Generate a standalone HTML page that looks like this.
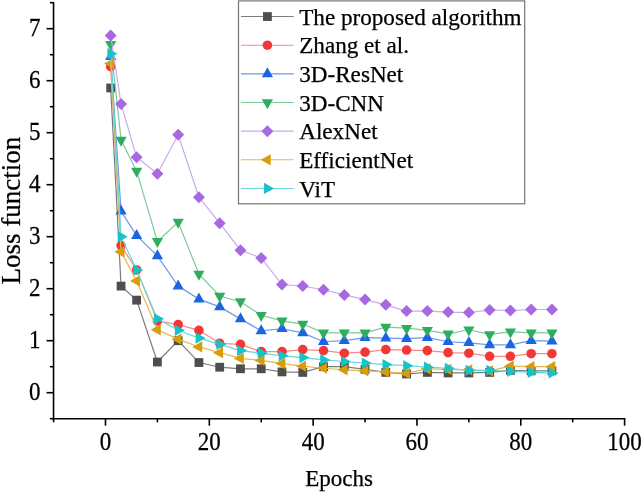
<!DOCTYPE html>
<html><head><meta charset="utf-8"><style>
html,body{margin:0;padding:0;background:#fff;overflow:hidden}
svg{display:block;will-change:transform}
text{font-family:"Liberation Serif",serif;fill:#000;stroke:#000;stroke-width:0.25px}
</style></head><body>
<svg width="641" height="492" viewBox="0 0 641 492">
<line x1="53.55" y1="1.95" x2="53.55" y2="419.50" stroke="#000" stroke-width="1.6"/>
<line x1="52.75" y1="418.70" x2="625.35" y2="418.70" stroke="#000" stroke-width="1.6"/>
<line x1="49.95" y1="418.70" x2="53.55" y2="418.70" stroke="#000" stroke-width="1.6"/>
<line x1="46.55" y1="392.70" x2="53.55" y2="392.70" stroke="#000" stroke-width="1.6"/>
<text transform="translate(40.6,399.80) scale(1,1.06)" font-family="Liberation Serif, serif" font-size="23" text-anchor="end">0</text>
<line x1="49.95" y1="366.70" x2="53.55" y2="366.70" stroke="#000" stroke-width="1.6"/>
<line x1="46.55" y1="340.70" x2="53.55" y2="340.70" stroke="#000" stroke-width="1.6"/>
<text transform="translate(40.6,347.80) scale(1,1.06)" font-family="Liberation Serif, serif" font-size="23" text-anchor="end">1</text>
<line x1="49.95" y1="314.70" x2="53.55" y2="314.70" stroke="#000" stroke-width="1.6"/>
<line x1="46.55" y1="288.70" x2="53.55" y2="288.70" stroke="#000" stroke-width="1.6"/>
<text transform="translate(40.6,295.80) scale(1,1.06)" font-family="Liberation Serif, serif" font-size="23" text-anchor="end">2</text>
<line x1="49.95" y1="262.70" x2="53.55" y2="262.70" stroke="#000" stroke-width="1.6"/>
<line x1="46.55" y1="236.70" x2="53.55" y2="236.70" stroke="#000" stroke-width="1.6"/>
<text transform="translate(40.6,243.80) scale(1,1.06)" font-family="Liberation Serif, serif" font-size="23" text-anchor="end">3</text>
<line x1="49.95" y1="210.70" x2="53.55" y2="210.70" stroke="#000" stroke-width="1.6"/>
<line x1="46.55" y1="184.70" x2="53.55" y2="184.70" stroke="#000" stroke-width="1.6"/>
<text transform="translate(40.6,191.80) scale(1,1.06)" font-family="Liberation Serif, serif" font-size="23" text-anchor="end">4</text>
<line x1="49.95" y1="158.70" x2="53.55" y2="158.70" stroke="#000" stroke-width="1.6"/>
<line x1="46.55" y1="132.70" x2="53.55" y2="132.70" stroke="#000" stroke-width="1.6"/>
<text transform="translate(40.6,139.80) scale(1,1.06)" font-family="Liberation Serif, serif" font-size="23" text-anchor="end">5</text>
<line x1="49.95" y1="106.70" x2="53.55" y2="106.70" stroke="#000" stroke-width="1.6"/>
<line x1="46.55" y1="80.70" x2="53.55" y2="80.70" stroke="#000" stroke-width="1.6"/>
<text transform="translate(40.6,87.80) scale(1,1.06)" font-family="Liberation Serif, serif" font-size="23" text-anchor="end">6</text>
<line x1="49.95" y1="54.70" x2="53.55" y2="54.70" stroke="#000" stroke-width="1.6"/>
<line x1="46.55" y1="28.70" x2="53.55" y2="28.70" stroke="#000" stroke-width="1.6"/>
<text transform="translate(40.6,35.80) scale(1,1.06)" font-family="Liberation Serif, serif" font-size="23" text-anchor="end">7</text>
<line x1="49.95" y1="2.70" x2="53.55" y2="2.70" stroke="#000" stroke-width="1.6"/>
<line x1="53.59" y1="418.70" x2="53.59" y2="422.30" stroke="#000" stroke-width="1.6"/>
<line x1="105.50" y1="418.70" x2="105.50" y2="425.70" stroke="#000" stroke-width="1.6"/>
<text transform="translate(105.50,449.7) scale(1,1.06)" font-family="Liberation Serif, serif" font-size="23" text-anchor="middle">0</text>
<line x1="157.41" y1="418.70" x2="157.41" y2="422.30" stroke="#000" stroke-width="1.6"/>
<line x1="209.32" y1="418.70" x2="209.32" y2="425.70" stroke="#000" stroke-width="1.6"/>
<text transform="translate(209.32,449.7) scale(1,1.06)" font-family="Liberation Serif, serif" font-size="23" text-anchor="middle">20</text>
<line x1="261.23" y1="418.70" x2="261.23" y2="422.30" stroke="#000" stroke-width="1.6"/>
<line x1="313.14" y1="418.70" x2="313.14" y2="425.70" stroke="#000" stroke-width="1.6"/>
<text transform="translate(313.14,449.7) scale(1,1.06)" font-family="Liberation Serif, serif" font-size="23" text-anchor="middle">40</text>
<line x1="365.05" y1="418.70" x2="365.05" y2="422.30" stroke="#000" stroke-width="1.6"/>
<line x1="416.96" y1="418.70" x2="416.96" y2="425.70" stroke="#000" stroke-width="1.6"/>
<text transform="translate(416.96,449.7) scale(1,1.06)" font-family="Liberation Serif, serif" font-size="23" text-anchor="middle">60</text>
<line x1="468.87" y1="418.70" x2="468.87" y2="422.30" stroke="#000" stroke-width="1.6"/>
<line x1="520.78" y1="418.70" x2="520.78" y2="425.70" stroke="#000" stroke-width="1.6"/>
<text transform="translate(520.78,449.7) scale(1,1.06)" font-family="Liberation Serif, serif" font-size="23" text-anchor="middle">80</text>
<line x1="572.69" y1="418.70" x2="572.69" y2="422.30" stroke="#000" stroke-width="1.6"/>
<line x1="624.60" y1="418.70" x2="624.60" y2="425.70" stroke="#000" stroke-width="1.6"/>
<text transform="translate(624.60,449.7) scale(1,1.06)" font-family="Liberation Serif, serif" font-size="23" text-anchor="middle">100</text>
<text x="339" y="486.2" font-family="Liberation Serif, serif" font-size="23" text-anchor="middle">Epochs</text>
<text transform="translate(19.5,210.6) rotate(-90)" font-family="Liberation Serif, serif" font-size="27" text-anchor="middle">Loss function</text>
<polyline points="110.69,87.98 121.07,286.10 136.65,300.14 157.41,362.02 178.17,340.70 198.94,362.54 219.70,367.22 240.47,368.78 261.23,368.78 281.99,371.90 302.76,372.42 323.52,366.70 344.29,366.70 365.05,369.30 385.81,372.42 406.58,373.98 427.34,372.42 448.11,372.94 468.87,372.94 489.63,372.42 510.40,370.34 531.16,370.86 551.93,370.86" fill="none" stroke="#7C7C7C" stroke-width="1.2"/>
<rect x="106.29" y="83.58" width="8.8" height="8.8" fill="#4E4E4E"/>
<rect x="116.67" y="281.70" width="8.8" height="8.8" fill="#4E4E4E"/>
<rect x="132.25" y="295.74" width="8.8" height="8.8" fill="#4E4E4E"/>
<rect x="153.01" y="357.62" width="8.8" height="8.8" fill="#4E4E4E"/>
<rect x="173.77" y="336.30" width="8.8" height="8.8" fill="#4E4E4E"/>
<rect x="194.54" y="358.14" width="8.8" height="8.8" fill="#4E4E4E"/>
<rect x="215.30" y="362.82" width="8.8" height="8.8" fill="#4E4E4E"/>
<rect x="236.07" y="364.38" width="8.8" height="8.8" fill="#4E4E4E"/>
<rect x="256.83" y="364.38" width="8.8" height="8.8" fill="#4E4E4E"/>
<rect x="277.59" y="367.50" width="8.8" height="8.8" fill="#4E4E4E"/>
<rect x="298.36" y="368.02" width="8.8" height="8.8" fill="#4E4E4E"/>
<rect x="319.12" y="362.30" width="8.8" height="8.8" fill="#4E4E4E"/>
<rect x="339.89" y="362.30" width="8.8" height="8.8" fill="#4E4E4E"/>
<rect x="360.65" y="364.90" width="8.8" height="8.8" fill="#4E4E4E"/>
<rect x="381.41" y="368.02" width="8.8" height="8.8" fill="#4E4E4E"/>
<rect x="402.18" y="369.58" width="8.8" height="8.8" fill="#4E4E4E"/>
<rect x="422.94" y="368.02" width="8.8" height="8.8" fill="#4E4E4E"/>
<rect x="443.71" y="368.54" width="8.8" height="8.8" fill="#4E4E4E"/>
<rect x="464.47" y="368.54" width="8.8" height="8.8" fill="#4E4E4E"/>
<rect x="485.23" y="368.02" width="8.8" height="8.8" fill="#4E4E4E"/>
<rect x="506.00" y="365.94" width="8.8" height="8.8" fill="#4E4E4E"/>
<rect x="526.76" y="366.46" width="8.8" height="8.8" fill="#4E4E4E"/>
<rect x="547.53" y="366.46" width="8.8" height="8.8" fill="#4E4E4E"/>
<polyline points="110.69,66.66 121.07,245.54 136.65,269.98 157.41,320.94 178.17,324.58 198.94,330.30 219.70,343.30 240.47,344.34 261.23,351.62 281.99,351.62 302.76,349.54 323.52,350.58 344.29,353.18 365.05,352.14 385.81,349.54 406.58,350.06 427.34,350.58 448.11,352.66 468.87,353.18 489.63,356.30 510.40,356.30 531.16,353.70 551.93,353.70" fill="none" stroke="#F68A8B" stroke-width="1.2"/>
<circle cx="110.69" cy="66.66" r="4.8" fill="#F33737"/>
<circle cx="121.07" cy="245.54" r="4.8" fill="#F33737"/>
<circle cx="136.65" cy="269.98" r="4.8" fill="#F33737"/>
<circle cx="157.41" cy="320.94" r="4.8" fill="#F33737"/>
<circle cx="178.17" cy="324.58" r="4.8" fill="#F33737"/>
<circle cx="198.94" cy="330.30" r="4.8" fill="#F33737"/>
<circle cx="219.70" cy="343.30" r="4.8" fill="#F33737"/>
<circle cx="240.47" cy="344.34" r="4.8" fill="#F33737"/>
<circle cx="261.23" cy="351.62" r="4.8" fill="#F33737"/>
<circle cx="281.99" cy="351.62" r="4.8" fill="#F33737"/>
<circle cx="302.76" cy="349.54" r="4.8" fill="#F33737"/>
<circle cx="323.52" cy="350.58" r="4.8" fill="#F33737"/>
<circle cx="344.29" cy="353.18" r="4.8" fill="#F33737"/>
<circle cx="365.05" cy="352.14" r="4.8" fill="#F33737"/>
<circle cx="385.81" cy="349.54" r="4.8" fill="#F33737"/>
<circle cx="406.58" cy="350.06" r="4.8" fill="#F33737"/>
<circle cx="427.34" cy="350.58" r="4.8" fill="#F33737"/>
<circle cx="448.11" cy="352.66" r="4.8" fill="#F33737"/>
<circle cx="468.87" cy="353.18" r="4.8" fill="#F33737"/>
<circle cx="489.63" cy="356.30" r="4.8" fill="#F33737"/>
<circle cx="510.40" cy="356.30" r="4.8" fill="#F33737"/>
<circle cx="531.16" cy="353.70" r="4.8" fill="#F33737"/>
<circle cx="551.93" cy="353.70" r="4.8" fill="#F33737"/>
<polyline points="110.69,56.78 121.07,211.22 136.65,235.66 157.41,255.94 178.17,286.10 198.94,299.10 219.70,306.90 240.47,318.86 261.23,330.82 281.99,328.74 302.76,332.90 323.52,341.74 344.29,340.70 365.05,337.58 385.81,338.10 406.58,338.62 427.34,337.58 448.11,341.74 468.87,342.78 489.63,344.86 510.40,344.86 531.16,340.70 551.93,341.22" fill="none" stroke="#6A98EA" stroke-width="1.2"/>
<path d="M110.69 50.11L116.29 60.11L105.09 60.11Z" fill="#1B65E3"/>
<path d="M121.07 204.55L126.67 214.55L115.47 214.55Z" fill="#1B65E3"/>
<path d="M136.65 228.99L142.25 238.99L131.05 238.99Z" fill="#1B65E3"/>
<path d="M157.41 249.27L163.01 259.27L151.81 259.27Z" fill="#1B65E3"/>
<path d="M178.17 279.43L183.77 289.43L172.57 289.43Z" fill="#1B65E3"/>
<path d="M198.94 292.43L204.54 302.43L193.34 302.43Z" fill="#1B65E3"/>
<path d="M219.70 300.23L225.30 310.23L214.10 310.23Z" fill="#1B65E3"/>
<path d="M240.47 312.19L246.07 322.19L234.87 322.19Z" fill="#1B65E3"/>
<path d="M261.23 324.15L266.83 334.15L255.63 334.15Z" fill="#1B65E3"/>
<path d="M281.99 322.07L287.59 332.07L276.39 332.07Z" fill="#1B65E3"/>
<path d="M302.76 326.23L308.36 336.23L297.16 336.23Z" fill="#1B65E3"/>
<path d="M323.52 335.07L329.12 345.07L317.92 345.07Z" fill="#1B65E3"/>
<path d="M344.29 334.03L349.89 344.03L338.69 344.03Z" fill="#1B65E3"/>
<path d="M365.05 330.91L370.65 340.91L359.45 340.91Z" fill="#1B65E3"/>
<path d="M385.81 331.43L391.41 341.43L380.21 341.43Z" fill="#1B65E3"/>
<path d="M406.58 331.95L412.18 341.95L400.98 341.95Z" fill="#1B65E3"/>
<path d="M427.34 330.91L432.94 340.91L421.74 340.91Z" fill="#1B65E3"/>
<path d="M448.11 335.07L453.71 345.07L442.51 345.07Z" fill="#1B65E3"/>
<path d="M468.87 336.11L474.47 346.11L463.27 346.11Z" fill="#1B65E3"/>
<path d="M489.63 338.19L495.23 348.19L484.03 348.19Z" fill="#1B65E3"/>
<path d="M510.40 338.19L516.00 348.19L504.80 348.19Z" fill="#1B65E3"/>
<path d="M531.16 334.03L536.76 344.03L525.56 344.03Z" fill="#1B65E3"/>
<path d="M551.93 334.55L557.53 344.55L546.33 344.55Z" fill="#1B65E3"/>
<polyline points="110.69,44.30 121.07,139.98 136.65,171.18 157.41,241.38 178.17,222.14 198.94,274.14 219.70,295.98 240.47,301.70 261.23,315.22 281.99,320.94 302.76,324.06 323.52,332.90 344.29,332.90 365.05,332.90 385.81,327.18 406.58,328.22 427.34,330.30 448.11,333.94 468.87,329.78 489.63,334.46 510.40,331.86 531.16,332.90 551.93,332.90" fill="none" stroke="#7BC999" stroke-width="1.2"/>
<path d="M105.09 40.97L116.29 40.97L110.69 50.97Z" fill="#2FAD5E"/>
<path d="M115.47 136.65L126.67 136.65L121.07 146.65Z" fill="#2FAD5E"/>
<path d="M131.05 167.85L142.25 167.85L136.65 177.85Z" fill="#2FAD5E"/>
<path d="M151.81 238.05L163.01 238.05L157.41 248.05Z" fill="#2FAD5E"/>
<path d="M172.57 218.81L183.77 218.81L178.17 228.81Z" fill="#2FAD5E"/>
<path d="M193.34 270.81L204.54 270.81L198.94 280.81Z" fill="#2FAD5E"/>
<path d="M214.10 292.65L225.30 292.65L219.70 302.65Z" fill="#2FAD5E"/>
<path d="M234.87 298.37L246.07 298.37L240.47 308.37Z" fill="#2FAD5E"/>
<path d="M255.63 311.89L266.83 311.89L261.23 321.89Z" fill="#2FAD5E"/>
<path d="M276.39 317.61L287.59 317.61L281.99 327.61Z" fill="#2FAD5E"/>
<path d="M297.16 320.73L308.36 320.73L302.76 330.73Z" fill="#2FAD5E"/>
<path d="M317.92 329.57L329.12 329.57L323.52 339.57Z" fill="#2FAD5E"/>
<path d="M338.69 329.57L349.89 329.57L344.29 339.57Z" fill="#2FAD5E"/>
<path d="M359.45 329.57L370.65 329.57L365.05 339.57Z" fill="#2FAD5E"/>
<path d="M380.21 323.85L391.41 323.85L385.81 333.85Z" fill="#2FAD5E"/>
<path d="M400.98 324.89L412.18 324.89L406.58 334.89Z" fill="#2FAD5E"/>
<path d="M421.74 326.97L432.94 326.97L427.34 336.97Z" fill="#2FAD5E"/>
<path d="M442.51 330.61L453.71 330.61L448.11 340.61Z" fill="#2FAD5E"/>
<path d="M463.27 326.45L474.47 326.45L468.87 336.45Z" fill="#2FAD5E"/>
<path d="M484.03 331.13L495.23 331.13L489.63 341.13Z" fill="#2FAD5E"/>
<path d="M504.80 328.53L516.00 328.53L510.40 338.53Z" fill="#2FAD5E"/>
<path d="M525.56 329.57L536.76 329.57L531.16 339.57Z" fill="#2FAD5E"/>
<path d="M546.33 329.57L557.53 329.57L551.93 339.57Z" fill="#2FAD5E"/>
<polyline points="110.69,35.46 121.07,104.10 136.65,157.14 157.41,173.78 178.17,134.78 198.94,197.18 219.70,223.18 240.47,250.22 261.23,258.02 281.99,284.54 302.76,286.10 323.52,289.74 344.29,294.94 365.05,299.62 385.81,304.82 406.58,311.06 427.34,311.06 448.11,312.10 468.87,312.62 489.63,310.02 510.40,310.54 531.16,309.50 551.93,309.50" fill="none" stroke="#CAAAEE" stroke-width="1.2"/>
<path d="M110.69 29.46L116.69 35.46L110.69 41.46L104.69 35.46Z" fill="#A868E2"/>
<path d="M121.07 98.10L127.07 104.10L121.07 110.10L115.07 104.10Z" fill="#A868E2"/>
<path d="M136.65 151.14L142.65 157.14L136.65 163.14L130.65 157.14Z" fill="#A868E2"/>
<path d="M157.41 167.78L163.41 173.78L157.41 179.78L151.41 173.78Z" fill="#A868E2"/>
<path d="M178.17 128.78L184.17 134.78L178.17 140.78L172.17 134.78Z" fill="#A868E2"/>
<path d="M198.94 191.18L204.94 197.18L198.94 203.18L192.94 197.18Z" fill="#A868E2"/>
<path d="M219.70 217.18L225.70 223.18L219.70 229.18L213.70 223.18Z" fill="#A868E2"/>
<path d="M240.47 244.22L246.47 250.22L240.47 256.22L234.47 250.22Z" fill="#A868E2"/>
<path d="M261.23 252.02L267.23 258.02L261.23 264.02L255.23 258.02Z" fill="#A868E2"/>
<path d="M281.99 278.54L287.99 284.54L281.99 290.54L275.99 284.54Z" fill="#A868E2"/>
<path d="M302.76 280.10L308.76 286.10L302.76 292.10L296.76 286.10Z" fill="#A868E2"/>
<path d="M323.52 283.74L329.52 289.74L323.52 295.74L317.52 289.74Z" fill="#A868E2"/>
<path d="M344.29 288.94L350.29 294.94L344.29 300.94L338.29 294.94Z" fill="#A868E2"/>
<path d="M365.05 293.62L371.05 299.62L365.05 305.62L359.05 299.62Z" fill="#A868E2"/>
<path d="M385.81 298.82L391.81 304.82L385.81 310.82L379.81 304.82Z" fill="#A868E2"/>
<path d="M406.58 305.06L412.58 311.06L406.58 317.06L400.58 311.06Z" fill="#A868E2"/>
<path d="M427.34 305.06L433.34 311.06L427.34 317.06L421.34 311.06Z" fill="#A868E2"/>
<path d="M448.11 306.10L454.11 312.10L448.11 318.10L442.11 312.10Z" fill="#A868E2"/>
<path d="M468.87 306.62L474.87 312.62L468.87 318.62L462.87 312.62Z" fill="#A868E2"/>
<path d="M489.63 304.02L495.63 310.02L489.63 316.02L483.63 310.02Z" fill="#A868E2"/>
<path d="M510.40 304.54L516.40 310.54L510.40 316.54L504.40 310.54Z" fill="#A868E2"/>
<path d="M531.16 303.50L537.16 309.50L531.16 315.50L525.16 309.50Z" fill="#A868E2"/>
<path d="M551.93 303.50L557.93 309.50L551.93 315.50L545.93 309.50Z" fill="#A868E2"/>
<polyline points="110.69,63.54 121.07,251.78 136.65,280.90 157.41,329.78 178.17,339.14 198.94,346.94 219.70,352.66 240.47,358.38 261.23,360.46 281.99,363.58 302.76,366.18 323.52,368.26 344.29,369.82 365.05,370.86 385.81,371.90 406.58,373.46 427.34,368.78 448.11,369.30 468.87,369.82 489.63,370.86 510.40,366.18 531.16,366.70 551.93,366.70" fill="none" stroke="#E3B853" stroke-width="1.2"/>
<path d="M104.02 63.54L114.02 57.94L114.02 69.14Z" fill="#D89D08"/>
<path d="M114.41 251.78L124.41 246.18L124.41 257.38Z" fill="#D89D08"/>
<path d="M129.98 280.90L139.98 275.30L139.98 286.50Z" fill="#D89D08"/>
<path d="M150.74 329.78L160.74 324.18L160.74 335.38Z" fill="#D89D08"/>
<path d="M171.51 339.14L181.51 333.54L181.51 344.74Z" fill="#D89D08"/>
<path d="M192.27 346.94L202.27 341.34L202.27 352.54Z" fill="#D89D08"/>
<path d="M213.04 352.66L223.04 347.06L223.04 358.26Z" fill="#D89D08"/>
<path d="M233.80 358.38L243.80 352.78L243.80 363.98Z" fill="#D89D08"/>
<path d="M254.56 360.46L264.56 354.86L264.56 366.06Z" fill="#D89D08"/>
<path d="M275.33 363.58L285.33 357.98L285.33 369.18Z" fill="#D89D08"/>
<path d="M296.09 366.18L306.09 360.58L306.09 371.78Z" fill="#D89D08"/>
<path d="M316.86 368.26L326.86 362.66L326.86 373.86Z" fill="#D89D08"/>
<path d="M337.62 369.82L347.62 364.22L347.62 375.42Z" fill="#D89D08"/>
<path d="M358.38 370.86L368.38 365.26L368.38 376.46Z" fill="#D89D08"/>
<path d="M379.15 371.90L389.15 366.30L389.15 377.50Z" fill="#D89D08"/>
<path d="M399.91 373.46L409.91 367.86L409.91 379.06Z" fill="#D89D08"/>
<path d="M420.68 368.78L430.68 363.18L430.68 374.38Z" fill="#D89D08"/>
<path d="M441.44 369.30L451.44 363.70L451.44 374.90Z" fill="#D89D08"/>
<path d="M462.20 369.82L472.20 364.22L472.20 375.42Z" fill="#D89D08"/>
<path d="M482.97 370.86L492.97 365.26L492.97 376.46Z" fill="#D89D08"/>
<path d="M503.73 366.18L513.73 360.58L513.73 371.78Z" fill="#D89D08"/>
<path d="M524.50 366.70L534.50 361.10L534.50 372.30Z" fill="#D89D08"/>
<path d="M545.26 366.70L555.26 361.10L555.26 372.30Z" fill="#D89D08"/>
<polyline points="110.69,53.66 121.07,236.70 136.65,269.98 157.41,318.86 178.17,330.30 198.94,338.10 219.70,344.34 240.47,350.58 261.23,353.18 281.99,355.78 302.76,357.60 323.52,359.94 344.29,361.50 365.05,363.06 385.81,364.62 406.58,365.66 427.34,367.22 448.11,368.26 468.87,370.34 489.63,370.34 510.40,371.38 531.16,372.42 551.93,372.94" fill="none" stroke="#66D8DB" stroke-width="1.2"/>
<path d="M117.36 53.66L107.36 48.06L107.36 59.26Z" fill="#16C3C8"/>
<path d="M127.74 236.70L117.74 231.10L117.74 242.30Z" fill="#16C3C8"/>
<path d="M143.31 269.98L133.31 264.38L133.31 275.58Z" fill="#16C3C8"/>
<path d="M164.08 318.86L154.08 313.26L154.08 324.46Z" fill="#16C3C8"/>
<path d="M184.84 330.30L174.84 324.70L174.84 335.90Z" fill="#16C3C8"/>
<path d="M205.60 338.10L195.60 332.50L195.60 343.70Z" fill="#16C3C8"/>
<path d="M226.37 344.34L216.37 338.74L216.37 349.94Z" fill="#16C3C8"/>
<path d="M247.13 350.58L237.13 344.98L237.13 356.18Z" fill="#16C3C8"/>
<path d="M267.90 353.18L257.90 347.58L257.90 358.78Z" fill="#16C3C8"/>
<path d="M288.66 355.78L278.66 350.18L278.66 361.38Z" fill="#16C3C8"/>
<path d="M309.42 357.60L299.42 352.00L299.42 363.20Z" fill="#16C3C8"/>
<path d="M330.19 359.94L320.19 354.34L320.19 365.54Z" fill="#16C3C8"/>
<path d="M350.95 361.50L340.95 355.90L340.95 367.10Z" fill="#16C3C8"/>
<path d="M371.72 363.06L361.72 357.46L361.72 368.66Z" fill="#16C3C8"/>
<path d="M392.48 364.62L382.48 359.02L382.48 370.22Z" fill="#16C3C8"/>
<path d="M413.24 365.66L403.24 360.06L403.24 371.26Z" fill="#16C3C8"/>
<path d="M434.01 367.22L424.01 361.62L424.01 372.82Z" fill="#16C3C8"/>
<path d="M454.77 368.26L444.77 362.66L444.77 373.86Z" fill="#16C3C8"/>
<path d="M475.54 370.34L465.54 364.74L465.54 375.94Z" fill="#16C3C8"/>
<path d="M496.30 370.34L486.30 364.74L486.30 375.94Z" fill="#16C3C8"/>
<path d="M517.06 371.38L507.06 365.78L507.06 376.98Z" fill="#16C3C8"/>
<path d="M537.83 372.42L527.83 366.82L527.83 378.02Z" fill="#16C3C8"/>
<path d="M558.59 372.94L548.59 367.34L548.59 378.54Z" fill="#16C3C8"/>
<rect x="238.5" y="0.9" width="286.2" height="202.9" fill="#fff" stroke="#747474" stroke-width="1.2"/>
<line x1="241" y1="16.55" x2="293.7" y2="16.55" stroke="#7C7C7C" stroke-width="1.1"/>
<rect x="263.00" y="12.15" width="8.8" height="8.8" fill="#4E4E4E"/>
<text x="299.2" y="24.75" font-family="Liberation Serif, serif" font-size="23.15">The proposed algorithm</text>
<line x1="241" y1="45.20" x2="293.7" y2="45.20" stroke="#F68A8B" stroke-width="1.1"/>
<circle cx="267.40" cy="45.20" r="4.8" fill="#F33737"/>
<text x="299.2" y="53.40" font-family="Liberation Serif, serif" font-size="23.15">Zhang et al.</text>
<line x1="241" y1="73.85" x2="293.7" y2="73.85" stroke="#6A98EA" stroke-width="1.1"/>
<path d="M267.40 67.18L273.00 77.18L261.80 77.18Z" fill="#1B65E3"/>
<text x="299.2" y="82.05" font-family="Liberation Serif, serif" font-size="23.15">3D-ResNet</text>
<line x1="241" y1="102.50" x2="293.7" y2="102.50" stroke="#7BC999" stroke-width="1.1"/>
<path d="M261.80 99.17L273.00 99.17L267.40 109.17Z" fill="#2FAD5E"/>
<text x="299.2" y="110.70" font-family="Liberation Serif, serif" font-size="23.15">3D-CNN</text>
<line x1="241" y1="131.15" x2="293.7" y2="131.15" stroke="#CAAAEE" stroke-width="1.1"/>
<path d="M267.40 125.15L273.40 131.15L267.40 137.15L261.40 131.15Z" fill="#A868E2"/>
<text x="299.2" y="139.35" font-family="Liberation Serif, serif" font-size="23.15">AlexNet</text>
<line x1="241" y1="159.80" x2="293.7" y2="159.80" stroke="#E3B853" stroke-width="1.1"/>
<path d="M260.73 159.80L270.73 154.20L270.73 165.40Z" fill="#D89D08"/>
<text x="299.2" y="168.00" font-family="Liberation Serif, serif" font-size="23.15">EfficientNet</text>
<line x1="241" y1="188.45" x2="293.7" y2="188.45" stroke="#66D8DB" stroke-width="1.1"/>
<path d="M274.07 188.45L264.07 182.85L264.07 194.05Z" fill="#16C3C8"/>
<text x="299.2" y="196.65" font-family="Liberation Serif, serif" font-size="23.15">ViT</text>
</svg>
</body></html>
